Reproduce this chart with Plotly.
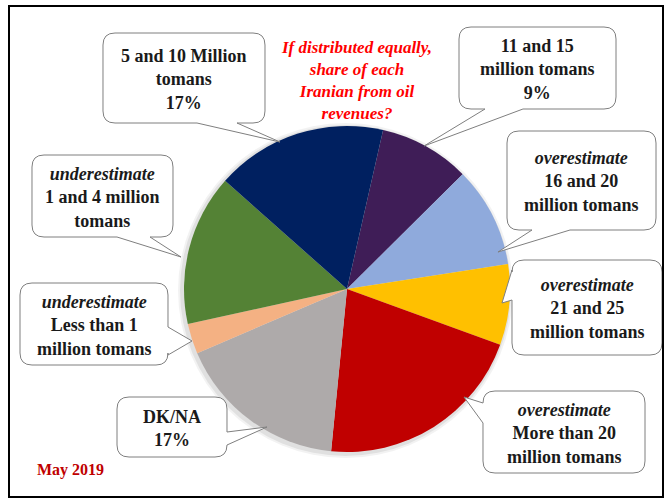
import plotly.graph_objects as go

# ---- data ----
categories = ["11 and 15 million tomans", "16 and 20 million tomans", "21 and 25 million tomans",
              "More than 20 million tomans", "DK/NA", "Less than 1 million tomans",
              "1 and 4 million tomans", "5 and 10 Million tomans"]
values = [9, 10, 8, 21, 17, 3, 15, 17]
colors = ["#3f1d57", "#8faadc", "#ffc000", "#c00000", "#aeaaaa", "#f4b183", "#548235", "#002060"]
label_texts = [
    "<b>11 and 15<br>million tomans<br>9%</b>",
    "<b><i>overestimate</i><br>16 and 20<br>million tomans</b>",
    "<b><i>overestimate</i><br>21 and 25<br>million tomans</b>",
    "<b><i>overestimate</i><br>More than 20<br>million tomans</b>",
    "<b>DK/NA<br>17%</b>",
    "<b><i>underestimate</i><br>Less than 1<br>million tomans</b>",
    "<b><i>underestimate</i><br>1 and 4 million<br>tomans</b>",
    "<b>5 and 10 Million<br>tomans<br>17%</b>",
]
title_text = "<b><i>If distributed equally,<br>share of each<br>Iranian from oil<br>revenues?</i></b>"
date_text = "<b>May 2019</b>"

W, H = 669, 500
SERIF = "Liberation Serif, Times New Roman, DejaVu Serif, serif"

def px(x):
    return x / W

def py(y):
    return 1 - y / H

# callout geometry (pixels): box x0,y0,x1,y1, side of pointer, base coords, tip
callouts = [
    dict(box=(459, 27, 616, 109), side="bottom", base=(485, 523), tip=(424, 146)),
    dict(box=(507, 131, 656, 230), side="bottom", base=(532, 570), tip=(498, 252)),
    dict(box=(512, 260, 662, 355), side="left", base=(270, 300), tip=(502, 303)),
    dict(box=(483, 391, 645, 473), side="left", base=(403, 423), tip=(464, 397)),
    dict(box=(117, 397, 227, 457), side="right", base=(432, 445), tip=(267, 427)),
    dict(box=(20, 283, 168, 365), side="right", base=(327, 355), tip=(192, 341)),
    dict(box=(32, 155, 173, 237), side="bottom", base=(117, 150), tip=(181, 257)),
    dict(box=(103, 33, 265, 123), side="bottom", base=(197, 237), tip=(280, 142)),
]

def callout_path(c, r=12):
    x0, y0, x1, y1 = c["box"]
    side = c["side"]
    b1, b2 = c["base"]
    tx, ty = c["tip"]

    def P(x, y):
        return f"{px(x):.5f},{py(y):.5f}"

    d = f"M {P(x0 + r, y0)} "
    d += f"L {P(x1 - r, y0)} Q {P(x1, y0)} {P(x1, y0 + r)} "
    if side == "right":
        lo, hi = sorted((b1, b2))
        d += f"L {P(x1, lo)} L {P(tx, ty)} L {P(x1, hi)} "
    d += f"L {P(x1, y1 - r)} Q {P(x1, y1)} {P(x1 - r, y1)} "
    if side == "bottom":
        hi, lo = sorted((b1, b2), reverse=True)
        d += f"L {P(hi, y1)} L {P(tx, ty)} L {P(lo, y1)} "
    d += f"L {P(x0 + r, y1)} Q {P(x0, y1)} {P(x0, y1 - r)} "
    if side == "left":
        hi, lo = sorted((b1, b2), reverse=True)
        d += f"L {P(x0, hi)} L {P(tx, ty)} L {P(x0, lo)} "
    d += f"L {P(x0, y0 + r)} Q {P(x0, y0)} {P(x0 + r, y0)} Z"
    return d

# pie geometry
cx, cy, R = 347, 289, 163

fig = go.Figure()
fig.add_trace(go.Pie(
    labels=categories, values=values, sort=False, direction="clockwise",
    rotation=12.8, marker=dict(colors=colors, line=dict(width=0)),
    textinfo="none", showlegend=False, hole=0,
    domain=dict(x=[px(cx - R), px(cx + R)], y=[py(cy + R), py(cy - R)]),
))

shapes = []
# soft shadow behind pie
for k, op in [(5, 0.05), (3, 0.07)]:
    shapes.append(dict(type="circle", xref="paper", yref="paper",
                       x0=px(cx - R - k - 1), x1=px(cx + R + k - 2),
                       y0=py(cy + R + k + 1), y1=py(cy - R - k + 2),
                       line=dict(width=0), fillcolor=f"rgba(0,0,0,{op})", layer="below"))

annotations = []
for c, txt in zip(callouts, label_texts):
    shapes.append(dict(type="path", xref="paper", yref="paper", path=callout_path(c),
                       line=dict(color="#7f7f7f", width=1), fillcolor="white", layer="above"))
    x0, y0, x1, y1 = c["box"]
    annotations.append(dict(x=px((x0 + x1) / 2), y=py((y0 + y1) / 2 + 1), xref="paper", yref="paper",
                            text=txt, showarrow=False, xanchor="center", yanchor="middle",
                            align="center",
                            font=dict(family=SERIF, size=18, color="#1a1a1a")))

# outer frame
shapes.append(dict(type="rect", xref="paper", yref="paper",
                   x0=px(9), x1=px(663), y0=py(497), y1=py(6),
                   line=dict(color="black", width=2), fillcolor="rgba(0,0,0,0)", layer="above"))

annotations.append(dict(x=px(356), y=py(80), xref="paper", yref="paper", text=title_text,
                        showarrow=False, xanchor="center", yanchor="middle", align="center",
                        font=dict(family=SERIF, size=17, color="#ff0000")))
annotations.append(dict(x=px(35), y=py(470), xref="paper", yref="paper", text=date_text,
                        showarrow=False, xanchor="left", yanchor="middle", align="left",
                        font=dict(family=SERIF, size=16, color="#c00000")))

fig.update_layout(
    width=W, height=H, margin=dict(l=0, r=0, t=0, b=0),
    paper_bgcolor="white", plot_bgcolor="white",
    shapes=shapes, annotations=annotations,
)

fig.write_html("out.html", config={"displayModeBar": False},
               post_script="document.body.style.margin='0';")
